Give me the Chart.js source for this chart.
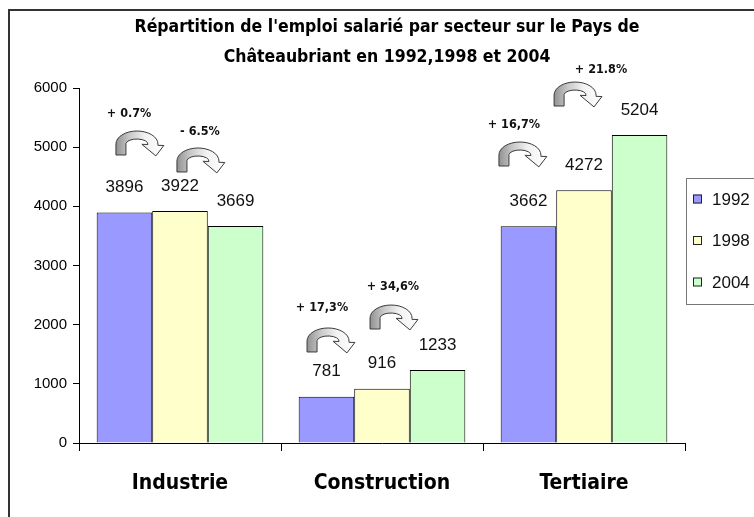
<!DOCTYPE html>
<html><head><meta charset="utf-8">
<script src="https://cdn.jsdelivr.net/npm/chart.js@4"></script>
<style>html,body{margin:0;padding:0;background:#fff;overflow:hidden}canvas{display:block}</style>
</head><body>
<canvas id="c" width="754" height="517"></canvas>
<script>
const categories = ["Industrie", "Construction", "Tertiaire"];
const seriesNames = ["1992", "1998", "2004"];
const values1992 = [3896, 781, 3662];
const values1998 = [3922, 916, 4272];
const values2004 = [3669, 1233, 5204];
const yTickValues = [0, 1000, 2000, 3000, 4000, 5000, 6000];
const titleLines = ["Répartition de l'emploi salarié par secteur sur le Pays de", "Châteaubriant en 1992,1998 et 2004"];
const changeLabels = ["+ 0.7%", "- 6.5%", "+ 17,3%", "+ 34,6%", "+ 16,7%", "+ 21.8%"];

// annotation placement (category index, offsets as fraction of category width, heights in data units)
const changeLayout = [
  {cat: 0, tx: -0.252, tv: 5560, ax: -0.327, av: 5273},
  {cat: 0, tx: 0.099, tv: 5256, ax: -0.025, av: 4986},
  {cat: 1, tx: -0.297, tv: 2282, ax: -0.381, av: 1944},
  {cat: 1, tx: 0.054, tv: 2636, ax: -0.069, av: 2332},
  {cat: 2, tx: -0.347, tv: 5374, ax: -0.431, av: 5087},
  {cat: 2, tx: 0.084, tv: 6304, ax: -0.158, av: 6101}
];

const FONT = "'Liberation Sans', Arial, sans-serif";
const NARROW = "'DejaVu Sans Condensed', 'Liberation Sans', sans-serif";
const colors = ['#9999ff', '#ffffcc', '#ccffcc'];

function drawCurvedArrow(ctx, x0, y0) {
  const cx = x0 + 23, cy = y0 + 13;
  const Rx = 21, Ry = 13, rx = 11, ry = 5;
  const te = 0.1;
  const P = (a, ax, ay) => [cx + ax * Math.cos(a), cy + ay * Math.sin(a)];
  ctx.save();
  ctx.beginPath();
  ctx.moveTo(cx - Rx, y0 + 24);
  ctx.lineTo(cx - Rx, cy);
  ctx.ellipse(cx, cy, Rx, Ry, 0, Math.PI, te, false);
  let p = P(te, Rx + 6, Ry + 2); ctx.lineTo(p[0], p[1]);
  const m = P(te, (Rx + rx) / 2, (Ry + ry) / 2); ctx.lineTo(m[0] + 3, m[1] + 11);
  p = P(te, rx - 6, ry - 2); ctx.lineTo(p[0], p[1]);
  p = P(te, rx, ry); ctx.lineTo(p[0], p[1]);
  ctx.ellipse(cx, cy, rx, ry, 0, te, Math.PI, true);
  ctx.lineTo(cx - rx, y0 + 24);
  ctx.closePath();
  const g = ctx.createLinearGradient(x0, 0, x0 + 52, 0);
  g.addColorStop(0, '#8a8a8a');
  g.addColorStop(0.3, '#c8c8c8');
  g.addColorStop(0.6, '#f2f2f2');
  g.addColorStop(1, '#ffffff');
  ctx.fillStyle = g;
  ctx.fill();
  ctx.strokeStyle = '#3a3a3a';
  ctx.lineWidth = 1;
  ctx.stroke();
  ctx.restore();
}

const framePlugin = {
  id: 'frame',
  afterDraw(chart) {
    const ctx = chart.ctx;
    ctx.save();
    ctx.strokeStyle = '#333';
    ctx.lineWidth = 2;
    ctx.strokeRect(9, 10, 900, 700);
    ctx.restore();
  }
};

const valueLabelPlugin = {
  id: 'valueLabels',
  afterDatasetsDraw(chart) {
    const ctx = chart.ctx;
    ctx.save();
    ctx.font = '17px ' + FONT;
    ctx.fillStyle = '#111';
    ctx.textAlign = 'center';
    ctx.textBaseline = 'middle';
    chart.data.datasets.forEach((ds, i) => {
      chart.getDatasetMeta(i).data.forEach((bar, j) => {
        ctx.fillText(String(ds.data[j]), bar.x, bar.y - 25);
      });
    });
    ctx.restore();
  }
};

const arrowPlugin = {
  id: 'arrows',
  afterDatasetsDraw(chart) {
    const ctx = chart.ctx;
    const xs = chart.scales.x, ys = chart.scales.y;
    const cw = xs.width / categories.length;
    ctx.save();
    changeLayout.forEach((a, i) => {
      const cxp = xs.getPixelForValue(a.cat);
      drawCurvedArrow(ctx, cxp + a.ax * cw, ys.getPixelForValue(a.av));
      ctx.font = 'bold 12.5px ' + NARROW;
      ctx.fillStyle = '#111';
      ctx.textAlign = 'center';
      ctx.textBaseline = 'middle';
      ctx.fillText(changeLabels[i], cxp + a.tx * cw, ys.getPixelForValue(a.tv));
    });
    ctx.restore();
  }
};

const legendPlugin = {
  id: 'boxLegend',
  afterDraw(chart) {
    const ctx = chart.ctx;
    ctx.save();
    ctx.strokeStyle = '#777';
    ctx.lineWidth = 1;
    ctx.strokeRect(686.5, 178.5, 120, 126);
    const rows = [199, 240.5, 282];
    chart.data.datasets.forEach((ds, i) => {
      const y = rows[i];
      ctx.fillStyle = ds.backgroundColor;
      ctx.fillRect(693, y - 4.5, 9, 9);
      ctx.strokeStyle = '#222';
      ctx.strokeRect(693.5, y - 4, 8, 8);
      ctx.fillStyle = '#111';
      ctx.font = '17px ' + FONT;
      ctx.textAlign = 'left';
      ctx.textBaseline = 'middle';
      ctx.fillText(ds.label, 712, y + 1);
    });
    ctx.restore();
  }
};

new Chart(document.getElementById('c'), {
  type: 'bar',
  data: {
    labels: categories,
    datasets: [
      {label: seriesNames[0], data: values1992, backgroundColor: colors[0], borderColor: '#000', borderWidth: 1},
      {label: seriesNames[1], data: values1998, backgroundColor: colors[1], borderColor: '#000', borderWidth: 1},
      {label: seriesNames[2], data: values2004, backgroundColor: colors[2], borderColor: '#000', borderWidth: 1}
    ]
  },
  options: {
    responsive: false,
    animation: false,
    devicePixelRatio: 1,
    layout: {padding: {left: 20, right: 0, top: 0, bottom: 0}},
    datasets: {bar: {categoryPercentage: 0.825, barPercentage: 1}},
    plugins: {
      legend: {display: false},
      tooltip: {enabled: false},
      title: {
        display: true,
        text: titleLines,
        color: '#000',
        font: {family: NARROW, size: 17.5, weight: 'bold', lineHeight: 29.5 / 17.5},
        padding: {top: 13, bottom: 16}
      }
    },
    scales: {
      x: {
        grid: {display: true, drawOnChartArea: false, drawTicks: true, tickLength: 8, color: '#000', offset: true},
        border: {display: true, color: '#000', width: 1},
        ticks: {font: {family: NARROW, size: 21, weight: 'bold'}, color: '#000', padding: 20},
        afterFit(s) { s.height = 74; }
      },
      y: {
        min: 0, max: 6000,
        grid: {drawOnChartArea: false, drawTicks: true, tickLength: 6, color: '#000'},
        border: {display: true, color: '#000', width: 1},
        ticks: {font: {family: FONT, size: 15}, color: '#000', padding: 6, callback: v => String(v)},
        afterBuildTicks(s) { s.ticks = yTickValues.map(v => ({value: v})); },
        afterFit(s) { s.width = 59; }
      },
      yR: {
        position: 'right', display: true,
        grid: {display: false}, border: {display: false}, ticks: {display: false},
        afterFit(s) { s.width = 69; }
      }
    }
  },
  plugins: [framePlugin, valueLabelPlugin, arrowPlugin, legendPlugin]
});
</script>
</body></html>
